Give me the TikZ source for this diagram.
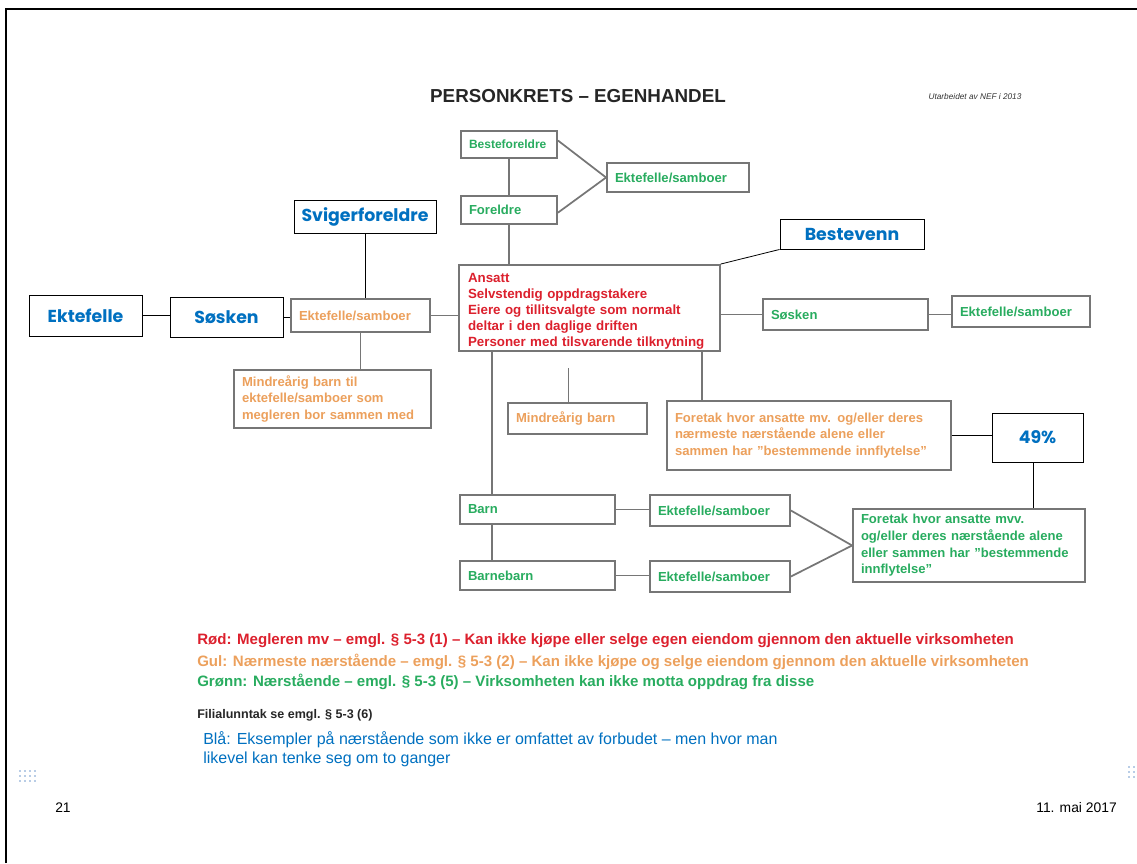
\documentclass[tikz,border=0pt]{standalone}
\usepackage{fontspec}
\setmainfont{Liberation Sans}
\newfontfamily\labfont{Poppins}
\usetikzlibrary{calc}
\definecolor{cred}{RGB}{220,32,45}
\definecolor{corange}{RGB}{236,160,92}
\definecolor{cgreen}{RGB}{40,172,95}
\definecolor{cblue}{RGB}{0,112,192}
\definecolor{cgrey}{RGB}{118,118,118}
\definecolor{cdot}{RGB}{185,205,230}
\begin{document}
\begin{tikzpicture}[x=0.75pt,y=-0.75pt,
  bx/.style 2 args={minimum width={#1*0.75pt}, minimum height={#2*0.75pt}, text width={(#1-16)*0.75pt}},
  gbox/.style={draw=cgrey, line width=1.4pt, fill=white, inner xsep=6pt, inner ysep=1pt, align=left,
     font=\fontsize{9.8}{12.5}\selectfont\bfseries},
  gtx/.style={gbox, text=cgreen},
  otx/.style={gbox, text=corange},
  rtx/.style={gbox, text=cred, font=\fontsize{10}{12}\selectfont\bfseries},
  lbox/.style 2 args={draw=black, line width=0.7pt, fill=white, text=cblue, inner sep=0pt,
     minimum width={#1*0.75pt}, minimum height={#2*0.75pt}, font=\labfont\bfseries\fontsize{13}{15}\selectfont},
  conn/.style={draw=cgrey, line width=1.3pt},
  bconn/.style={draw=black, line width=0.6pt},
  leg/.style={anchor=west, inner sep=0pt, font=\fontsize{11.3}{13}\selectfont\bfseries},
  dot/.style={fill=cdot, draw=none}
]
\useasboundingbox (0,0) rectangle (1137,863);
% frame
\draw[line width=1.6pt, black] (6,863) -- (6,9) -- (1137,9);

% title
\node[font=\bfseries\fontsize{14.1}{16}\selectfont, text=black!85] (title) at (578,96) {PERSONKRETS – EGENHANDEL};
\node[font=\itshape\fontsize{6.2}{8}\selectfont, text=black!80] (sub) at (975,97) {Utarbeidet av NEF i 2013};

% top family
\node[gtx, bx={96}{27}, font=\fontsize{9}{11}\selectfont\bfseries] (bf) at (509,144.5) {Besteforeldre};
\node[gtx, bx={96}{28}] (fo) at (509,210) {Foreldre};
\node[gtx, bx={142}{29}] (ekT) at (678,177.5) {Ektefelle/samboer};

% main box
\node[rtx, bx={259}{86}, inner xsep=6.5pt, inner ysep=0.3pt] (main) at (589.5,308) {\rule{0pt}{11.5pt}Ansatt\\Selvstendig oppdragstakere\\Eiere og tillitsvalgte som normalt\\deltar i den daglige driften\\Personer med tilsvarende tilknytning};

% blue labels
\node[lbox={144}{30}] (best) at (852,234) {Bestevenn};
\node[lbox={142}{33}] (svig) at (365,216.5) {Svigerforeldre};
\node[lbox={113}{40}] (sosB) at (226.5,317) {Søsken};
\node[lbox={113}{41}] (ekB) at (85.5,315.5) {Ektefelle};
\node[lbox={91}{49}] (p49) at (1037.5,437.5) {49\%};

% orange
\node[otx, bx={139}{33}] (ekO) at (360.5,315.5) {Ektefelle/samboer};
\node[otx, bx={197}{58}] (mbt) at (332.5,399) {Mindreårig barn til\\ektefelle/samboer som\\megleren bor sammen med};
\node[otx, bx={139}{31}] (mb) at (577.5,418.5) {Mindreårig barn};
\node[otx, bx={284}{69}] (ftO) at (809,435.5) {Foretak hvor ansatte mv. og/eller deres\\nærmeste nærstående alene eller\\sammen har "bestemmende innflytelse"};

% green right
\node[gtx, bx={165}{31}] (sosG) at (845.5,314.5) {Søsken};
\node[gtx, bx={138}{31}] (ekG) at (1021,311.5) {Ektefelle/samboer};

% children
\node[gtx, bx={155}{29}] (barn) at (537.5,509.5) {Barn};
\node[gtx, bx={140}{31}] (ekb1) at (720,510.5) {Ektefelle/samboer};
\node[gtx, bx={155}{29}] (bb) at (537.5,575.5) {Barnebarn};
\node[gtx, bx={140}{31}] (ekb2) at (720,576.5) {Ektefelle/samboer};
\node[gtx, bx={232}{73}] (ftG) at (969,545.5) {Foretak hvor ansatte mvv.\\og/eller deres nærstående alene\\eller sammen har "bestemmende\\innflytelse"};

% connectors (grey)
\draw[conn] (bf.south) -- (fo.north);
\draw[conn] ([yshift=3pt]bf.east) -- (ekT.west);
\draw[conn] ([yshift=-2pt]fo.east) -- (ekT.west);
\draw[conn] (fo.south) -- (fo.south |- main.north);
\draw[conn] (ekO.east) -- (ekO.east -| main.west);
\draw[conn] (ekO.south) -- (ekO.south |- mbt.north);
\draw[conn, shorten >=12pt] ([xshift=-6.75pt]mb.north) -- ([xshift=-6.75pt]mb.north |- main.south);
\draw[conn] ([xshift=27pt]ftO.north west) -- ([xshift=27pt]ftO.north west |- main.south);
\draw[conn] (sosG.west -| main.east) -- (sosG.west);
\draw[conn] (sosG.east) -- (sosG.east -| ekG.west);
\draw[conn] ([xshift=24.75pt]barn.north west) -- ([xshift=24.75pt]barn.north west |- main.south);
\draw[conn] ([xshift=24.75pt]barn.south west) -- ([xshift=24.75pt]bb.north west);
\draw[conn] (barn.east) -- (barn.east -| ekb1.west);
\draw[conn] (bb.east) -- (bb.east -| ekb2.west);
\draw[conn] (ekb1.east) -- (ftG.west);
\draw[conn] (ekb2.east) -- (ftG.west);

% connectors (black, added labels)
\draw[bconn] (best.south west) -- (main.north east);
\draw[bconn] (svig.south) -- (svig.south |- ekO.north);
\draw[bconn] (sosB.east) -- (sosB.east -| ekO.west);
\draw[bconn] (ekB.east) -- (ekB.east -| sosB.west);
\draw[bconn] (ftO.east) -- (ftO.east -| p49.west);
\draw[bconn] ([xshift=-3.4pt]p49.south) -- ([xshift=-3.4pt]p49.south |- ftG.north);

% legend
\node[leg, text=cred] (l1) at (197,641) {Rød: Megleren mv – emgl. § 5-3 (1) – Kan ikke kjøpe eller selge egen eiendom gjennom den aktuelle virksomheten};
\node[leg, text=corange] (l2) at (197,662) {Gul: Nærmeste nærstående – emgl. § 5-3 (2) – Kan ikke kjøpe og selge eiendom gjennom den aktuelle virksomheten};
\node[leg, text=cgreen] (l3) at (197,682) {Grønn: Nærstående – emgl. § 5-3 (5) – Virksomheten kan ikke motta oppdrag fra disse};
\node[leg, text=black!85, font=\fontsize{9.4}{11}\selectfont\bfseries] (l4) at (197,715) {Filialunntak se emgl. § 5-3 (6)};
\node[anchor=north west, inner sep=0pt, align=left, text=cblue, font=\fontsize{12}{14.2}\selectfont] (blaa) at (203,731) {Blå: Eksempler på nærstående som ikke er omfattet av forbudet – men hvor man\\likevel kan tenke seg om to ganger};

% footer
\node[font=\fontsize{10.4}{12}\selectfont] (pg) at (63,808) {21};
\node[anchor=east, inner sep=0pt, font=\fontsize{10.4}{12}\selectfont] (date) at (1117,808) {11. mai 2017};

% dot grids
\foreach \i in {0,...,3} \foreach \j in {0,...,2} {
  \fill[dot] (20+5*\i-1,771+5*\j-1) rectangle ++(2.2,2.2);
}
\foreach \i in {0,...,1} \foreach \j in {0,...,2} {
  \fill[dot] (1129+5*\i-1,767+5*\j-1) rectangle ++(2.2,2.2);
}
\end{tikzpicture}
\end{document}
